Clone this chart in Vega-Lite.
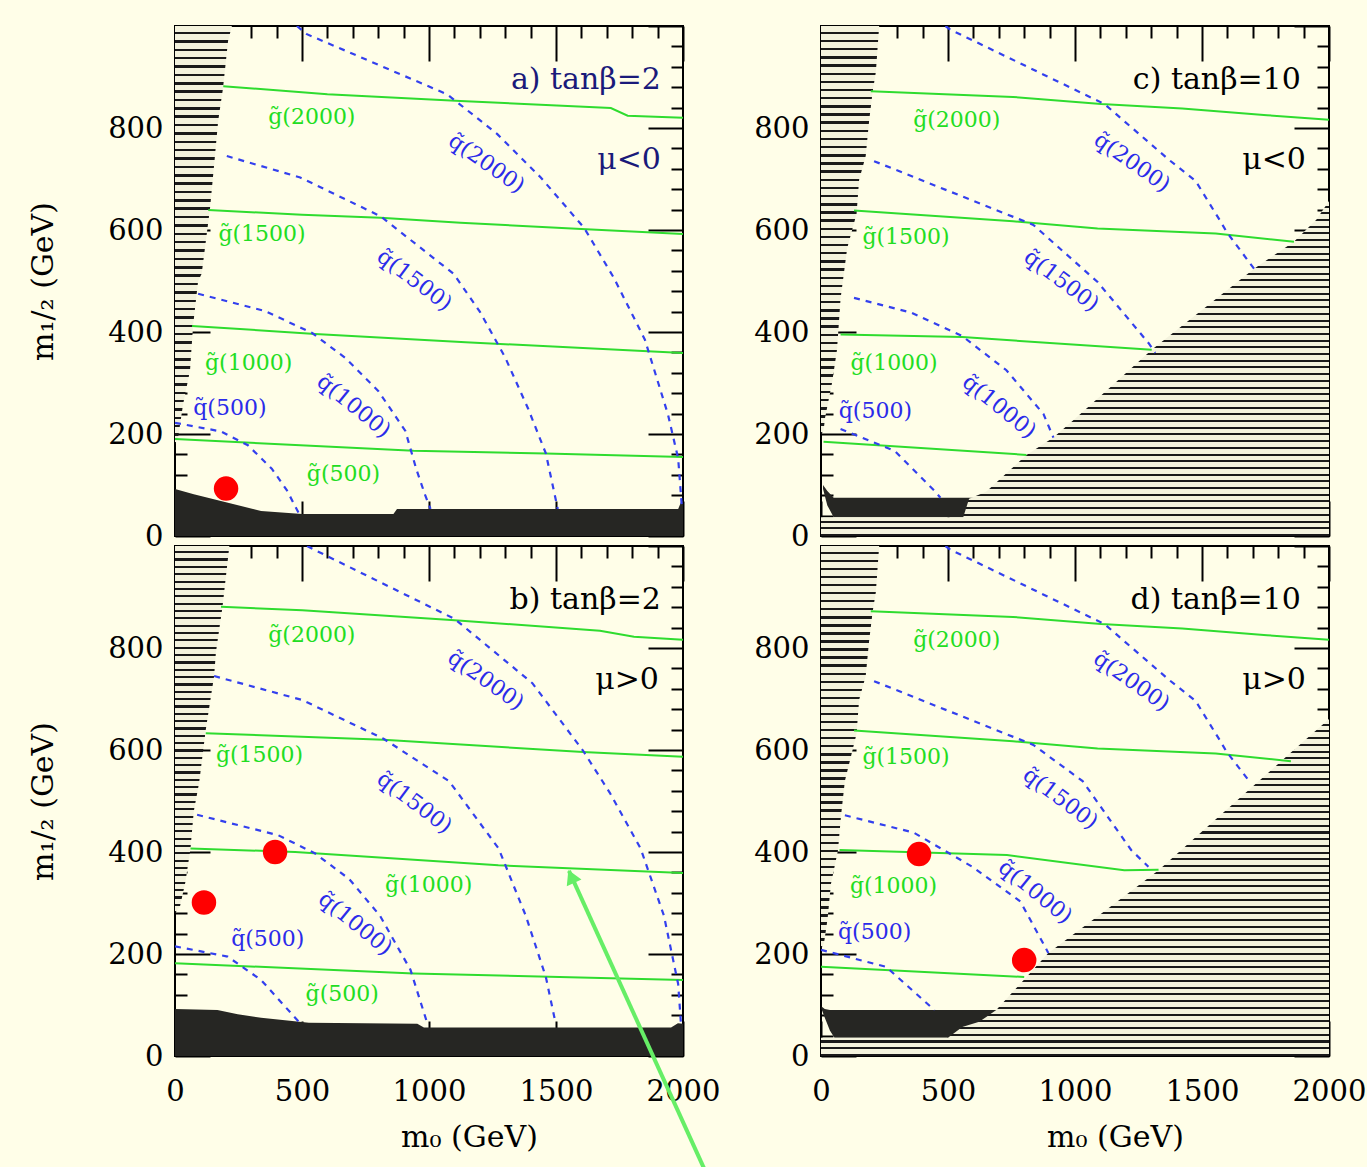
{
  "$schema": "https://vega.github.io/schema/vega-lite/v6.json",
  "background": "#fffee8",
  "padding": {"left": 27, "top": 11, "right": 0, "bottom": 0},
  "bounds": "flush",
  "columns": 2,
  "spacing": {"row": 10, "column": 138},
  "datasets": {
    "lines": [
      {"p":"a","c":"g2000","k":"g","x":190,"y":882},{"p":"a","c":"g2000","k":"g","x":600,"y":866},{"p":"a","c":"g2000","k":"g","x":1124,"y":853},{"p":"a","c":"g2000","k":"g","x":1716,"y":839},{"p":"a","c":"g2000","k":"g","x":1782,"y":824},{"p":"a","c":"g2000","k":"g","x":2000,"y":820},
      {"p":"a","c":"g1500","k":"g","x":131,"y":639},{"p":"a","c":"g1500","k":"g","x":500,"y":630},{"p":"a","c":"g1500","k":"g","x":809,"y":624},{"p":"a","c":"g1500","k":"g","x":1124,"y":614},{"p":"a","c":"g1500","k":"g","x":1600,"y":602},{"p":"a","c":"g1500","k":"g","x":2000,"y":592},
      {"p":"a","c":"g1000","k":"g","x":67,"y":412},{"p":"a","c":"g1000","k":"g","x":552,"y":396},{"p":"a","c":"g1000","k":"g","x":1144,"y":380},{"p":"a","c":"g1000","k":"g","x":2000,"y":359},
      {"p":"a","c":"g500","k":"g","x":0,"y":190},{"p":"a","c":"g500","k":"g","x":939,"y":167},{"p":"a","c":"g500","k":"g","x":1460,"y":162},{"p":"a","c":"g500","k":"g","x":2000,"y":155},
      {"p":"a","c":"q500","k":"q","x":0,"y":222},{"p":"a","c":"q500","k":"q","x":181,"y":205},{"p":"a","c":"q500","k":"q","x":287,"y":178},{"p":"a","c":"q500","k":"q","x":381,"y":132},{"p":"a","c":"q500","k":"q","x":440,"y":90},{"p":"a","c":"q500","k":"q","x":487,"y":45},
      {"p":"a","c":"q1000","k":"q","x":91,"y":475},{"p":"a","c":"q1000","k":"q","x":355,"y":441},{"p":"a","c":"q1000","k":"q","x":540,"y":398},{"p":"a","c":"q1000","k":"q","x":671,"y":349},{"p":"a","c":"q1000","k":"q","x":801,"y":284},{"p":"a","c":"q1000","k":"q","x":907,"y":206},{"p":"a","c":"q1000","k":"q","x":950,"y":131},{"p":"a","c":"q1000","k":"q","x":985,"y":80},{"p":"a","c":"q1000","k":"q","x":1006,"y":53},
      {"p":"a","c":"q1500","k":"q","x":204,"y":745},{"p":"a","c":"q1500","k":"q","x":493,"y":703},{"p":"a","c":"q1500","k":"q","x":809,"y":627},{"p":"a","c":"q1500","k":"q","x":1097,"y":514},{"p":"a","c":"q1500","k":"q","x":1200,"y":440},{"p":"a","c":"q1500","k":"q","x":1300,"y":350},{"p":"a","c":"q1500","k":"q","x":1390,"y":250},{"p":"a","c":"q1500","k":"q","x":1460,"y":162},{"p":"a","c":"q1500","k":"q","x":1507,"y":53},
      {"p":"a","c":"q2000","k":"q","x":480,"y":1000},{"p":"a","c":"q2000","k":"q","x":519,"y":984},{"p":"a","c":"q2000","k":"q","x":1072,"y":866},{"p":"a","c":"q2000","k":"q","x":1269,"y":788},{"p":"a","c":"q2000","k":"q","x":1440,"y":703},{"p":"a","c":"q2000","k":"q","x":1611,"y":604},{"p":"a","c":"q2000","k":"q","x":1728,"y":506},{"p":"a","c":"q2000","k":"q","x":1850,"y":385},{"p":"a","c":"q2000","k":"q","x":1941,"y":238},{"p":"a","c":"q2000","k":"q","x":1981,"y":152},{"p":"a","c":"q2000","k":"q","x":1995,"y":60},

      {"p":"b","c":"g2000","k":"g","x":181,"y":881},{"p":"b","c":"g2000","k":"g","x":501,"y":874},{"p":"b","c":"g2000","k":"g","x":1087,"y":855},{"p":"b","c":"g2000","k":"g","x":1673,"y":834},{"p":"b","c":"g2000","k":"g","x":1807,"y":822},{"p":"b","c":"g2000","k":"g","x":2000,"y":816},
      {"p":"b","c":"g1500","k":"g","x":121,"y":633},{"p":"b","c":"g1500","k":"g","x":821,"y":620},{"p":"b","c":"g1500","k":"g","x":1606,"y":596},{"p":"b","c":"g1500","k":"g","x":2000,"y":587},
      {"p":"b","c":"g1000","k":"g","x":61,"y":407},{"p":"b","c":"g1000","k":"g","x":473,"y":400},{"p":"b","c":"g1000","k":"g","x":1273,"y":374},{"p":"b","c":"g1000","k":"g","x":2000,"y":359},
      {"p":"b","c":"g500","k":"g","x":0,"y":182},{"p":"b","c":"g500","k":"g","x":939,"y":162},{"p":"b","c":"g500","k":"g","x":2000,"y":149},
      {"p":"b","c":"q500","k":"q","x":0,"y":215},{"p":"b","c":"q500","k":"q","x":207,"y":195},{"p":"b","c":"q500","k":"q","x":339,"y":149},{"p":"b","c":"q500","k":"q","x":473,"y":75},{"p":"b","c":"q500","k":"q","x":490,"y":66},
      {"p":"b","c":"q1000","k":"q","x":87,"y":473},{"p":"b","c":"q1000","k":"q","x":406,"y":433},{"p":"b","c":"q1000","k":"q","x":552,"y":397},{"p":"b","c":"q1000","k":"q","x":686,"y":347},{"p":"b","c":"q1000","k":"q","x":807,"y":275},{"p":"b","c":"q1000","k":"q","x":927,"y":169},{"p":"b","c":"q1000","k":"q","x":994,"y":63},
      {"p":"b","c":"q1500","k":"q","x":154,"y":745},{"p":"b","c":"q1500","k":"q","x":501,"y":698},{"p":"b","c":"q1500","k":"q","x":821,"y":622},{"p":"b","c":"q1500","k":"q","x":1079,"y":539},{"p":"b","c":"q1500","k":"q","x":1274,"y":407},{"p":"b","c":"q1500","k":"q","x":1381,"y":275},{"p":"b","c":"q1500","k":"q","x":1460,"y":155},{"p":"b","c":"q1500","k":"q","x":1499,"y":63},
      {"p":"b","c":"q2000","k":"q","x":520,"y":1000},{"p":"b","c":"q2000","k":"q","x":547,"y":993},{"p":"b","c":"q2000","k":"q","x":1101,"y":857},{"p":"b","c":"q2000","k":"q","x":1407,"y":731},{"p":"b","c":"q2000","k":"q","x":1606,"y":599},{"p":"b","c":"q2000","k":"q","x":1712,"y":516},{"p":"b","c":"q2000","k":"q","x":1833,"y":407},{"p":"b","c":"q2000","k":"q","x":1925,"y":275},{"p":"b","c":"q2000","k":"q","x":1981,"y":141},{"p":"b","c":"q2000","k":"q","x":1992,"y":63},

      {"p":"c","c":"g2000","k":"g","x":196,"y":872},{"p":"c","c":"g2000","k":"g","x":756,"y":861},{"p":"c","c":"g2000","k":"g","x":1103,"y":847},{"p":"c","c":"g2000","k":"g","x":1422,"y":838},{"p":"c","c":"g2000","k":"g","x":1756,"y":825},{"p":"c","c":"g2000","k":"g","x":2000,"y":816},
      {"p":"c","c":"g1500","k":"g","x":130,"y":638},{"p":"c","c":"g1500","k":"g","x":756,"y":617},{"p":"c","c":"g1500","k":"g","x":1089,"y":603},{"p":"c","c":"g1500","k":"g","x":1554,"y":593},{"p":"c","c":"g1500","k":"g","x":1862,"y":577},
      {"p":"c","c":"g1000","k":"g","x":77,"y":395},{"p":"c","c":"g1000","k":"g","x":556,"y":390},{"p":"c","c":"g1000","k":"g","x":1302,"y":365},
      {"p":"c","c":"g500","k":"g","x":10,"y":185},{"p":"c","c":"g500","k":"g","x":809,"y":159},
      {"p":"c","c":"q500","k":"q","x":77,"y":210},{"p":"c","c":"q500","k":"q","x":290,"y":167},{"p":"c","c":"q500","k":"q","x":450,"y":87},{"p":"c","c":"q500","k":"q","x":470,"y":75},
      {"p":"c","c":"q1000","k":"q","x":130,"y":467},{"p":"c","c":"q1000","k":"q","x":355,"y":438},{"p":"c","c":"q1000","k":"q","x":556,"y":392},{"p":"c","c":"q1000","k":"q","x":730,"y":325},{"p":"c","c":"q1000","k":"q","x":876,"y":239},{"p":"c","c":"q1000","k":"q","x":915,"y":193},
      {"p":"c","c":"q1500","k":"q","x":209,"y":735},{"p":"c","c":"q1500","k":"q","x":836,"y":610},{"p":"c","c":"q1500","k":"q","x":1089,"y":498},{"p":"c","c":"q1500","k":"q","x":1290,"y":378},{"p":"c","c":"q1500","k":"q","x":1316,"y":359},
      {"p":"c","c":"q2000","k":"q","x":490,"y":1000},{"p":"c","c":"q2000","k":"q","x":509,"y":993},{"p":"c","c":"q2000","k":"q","x":1116,"y":847},{"p":"c","c":"q2000","k":"q","x":1369,"y":738},{"p":"c","c":"q2000","k":"q","x":1475,"y":696},{"p":"c","c":"q2000","k":"q","x":1569,"y":620},{"p":"c","c":"q2000","k":"q","x":1596,"y":597},{"p":"c","c":"q2000","k":"q","x":1705,"y":524},

      {"p":"d","c":"g2000","k":"g","x":196,"y":872},{"p":"d","c":"g2000","k":"g","x":756,"y":861},{"p":"d","c":"g2000","k":"g","x":1103,"y":847},{"p":"d","c":"g2000","k":"g","x":1422,"y":838},{"p":"d","c":"g2000","k":"g","x":1756,"y":825},{"p":"d","c":"g2000","k":"g","x":2000,"y":816},
      {"p":"d","c":"g1500","k":"g","x":130,"y":638},{"p":"d","c":"g1500","k":"g","x":756,"y":617},{"p":"d","c":"g1500","k":"g","x":1089,"y":603},{"p":"d","c":"g1500","k":"g","x":1554,"y":593},{"p":"d","c":"g1500","k":"g","x":1850,"y":578},
      {"p":"d","c":"g1000","k":"g","x":73,"y":404},{"p":"d","c":"g1000","k":"g","x":732,"y":394},{"p":"d","c":"g1000","k":"g","x":1194,"y":364},{"p":"d","c":"g1000","k":"g","x":1329,"y":365},
      {"p":"d","c":"g500","k":"g","x":0,"y":175},{"p":"d","c":"g500","k":"g","x":800,"y":155},
      {"p":"d","c":"q500","k":"q","x":0,"y":208},{"p":"d","c":"q500","k":"q","x":256,"y":175},{"p":"d","c":"q500","k":"q","x":447,"y":90},
      {"p":"d","c":"q1000","k":"q","x":94,"y":472},{"p":"d","c":"q1000","k":"q","x":365,"y":438},{"p":"d","c":"q1000","k":"q","x":596,"y":371},{"p":"d","c":"q1000","k":"q","x":785,"y":303},{"p":"d","c":"q1000","k":"q","x":895,"y":202},
      {"p":"d","c":"q1500","k":"q","x":209,"y":735},{"p":"d","c":"q1500","k":"q","x":836,"y":610},{"p":"d","c":"q1500","k":"q","x":1030,"y":539},{"p":"d","c":"q1500","k":"q","x":1221,"y":404},{"p":"d","c":"q1500","k":"q","x":1289,"y":371},
      {"p":"d","c":"q2000","k":"q","x":490,"y":1000},{"p":"d","c":"q2000","k":"q","x":509,"y":993},{"p":"d","c":"q2000","k":"q","x":1116,"y":847},{"p":"d","c":"q2000","k":"q","x":1369,"y":738},{"p":"d","c":"q2000","k":"q","x":1475,"y":696},{"p":"d","c":"q2000","k":"q","x":1569,"y":620},{"p":"d","c":"q2000","k":"q","x":1596,"y":597},{"p":"d","c":"q2000","k":"q","x":1692,"y":535}
    ],
    "fills": [
      {"p":"a","r":"hatch","x":0,"y":92,"y2":0},{"p":"a","r":"hatch","x":74,"y":82,"y2":0},{"p":"a","r":"hatch","x":260,"y":59,"y2":0},{"p":"a","r":"hatch","x":339,"y":49,"y2":0},{"p":"a","r":"hatch","x":501,"y":43,"y2":0},{"p":"a","r":"hatch","x":860,"y":43,"y2":0},{"p":"a","r":"hatch","x":874,"y":53,"y2":0},{"p":"a","r":"hatch","x":1981,"y":53,"y2":0},{"p":"a","r":"hatch","x":1992,"y":66,"y2":0},{"p":"a","r":"hatch","x":2000,"y":70,"y2":0},
      {"p":"b","r":"hatch","x":0,"y":92,"y2":0},{"p":"b","r":"hatch","x":167,"y":90,"y2":0},{"p":"b","r":"hatch","x":247,"y":82,"y2":0},{"p":"b","r":"hatch","x":339,"y":75,"y2":0},{"p":"b","r":"hatch","x":527,"y":65,"y2":0},{"p":"b","r":"hatch","x":954,"y":63,"y2":0},{"p":"b","r":"hatch","x":980,"y":56,"y2":0},{"p":"b","r":"hatch","x":1953,"y":56,"y2":0},{"p":"b","r":"hatch","x":1980,"y":64,"y2":0},{"p":"b","r":"hatch","x":2000,"y":63,"y2":0},
      {"p":"c","r":"hatch","x":8,"y":100,"y2":92},{"p":"c","r":"hatch","x":25,"y":88,"y2":60},{"p":"c","r":"hatch","x":50,"y":75,"y2":37},{"p":"c","r":"hatch","x":700,"y":75,"y2":37},
      {"p":"c","r":"brick","x":0,"y":37,"y2":0},{"p":"c","r":"brick","x":560,"y":37,"y2":0},{"p":"c","r":"brick","x":583,"y":73,"y2":0},{"p":"c","r":"brick","x":650,"y":87,"y2":0},{"p":"c","r":"brick","x":809,"y":159,"y2":0},{"p":"c","r":"brick","x":915,"y":193,"y2":0},{"p":"c","r":"brick","x":1000,"y":230,"y2":0},{"p":"c","r":"brick","x":1151,"y":297,"y2":0},{"p":"c","r":"brick","x":1302,"y":365,"y2":0},{"p":"c","r":"brick","x":1500,"y":443,"y2":0},{"p":"c","r":"brick","x":1705,"y":524,"y2":0},{"p":"c","r":"brick","x":1862,"y":577,"y2":0},{"p":"c","r":"brick","x":1950,"y":620,"y2":0},{"p":"c","r":"brick","x":2000,"y":657,"y2":0},
      {"p":"d","r":"hatch","x":2,"y":97,"y2":92},{"p":"d","r":"hatch","x":15,"y":92,"y2":75},{"p":"d","r":"hatch","x":35,"y":90,"y2":50},{"p":"d","r":"hatch","x":53,"y":90,"y2":36},{"p":"d","r":"hatch","x":720,"y":90,"y2":36},
      {"p":"d","r":"brick","x":0,"y":36,"y2":0},{"p":"d","r":"brick","x":500,"y":36,"y2":0},{"p":"d","r":"brick","x":556,"y":57,"y2":0},{"p":"d","r":"brick","x":623,"y":67,"y2":0},{"p":"d","r":"brick","x":690,"y":90,"y2":0},{"p":"d","r":"brick","x":895,"y":202,"y2":0},{"p":"d","r":"brick","x":1100,"y":278,"y2":0},{"p":"d","r":"brick","x":1329,"y":364,"y2":0},{"p":"d","r":"brick","x":1500,"y":440,"y2":0},{"p":"d","r":"brick","x":1724,"y":539,"y2":0},{"p":"d","r":"brick","x":1850,"y":595,"y2":0},{"p":"d","r":"brick","x":2000,"y":661,"y2":0}
    ],
    "strips": [
      {"p":"a","y":1000,"x":224},{"p":"a","y":971,"x":209},{"p":"a","y":878,"x":189},{"p":"a","y":814,"x":170},{"p":"a","y":749,"x":158},{"p":"a","y":643,"x":138},{"p":"a","y":514,"x":105},{"p":"a","y":500,"x":91},{"p":"a","y":412,"x":71},{"p":"a","y":324,"x":59},{"p":"a","y":259,"x":32},{"p":"a","y":192,"x":12},{"p":"a","y":180,"x":0},
      {"p":"b","y":1000,"x":214},{"p":"b","y":881,"x":187},{"p":"b","y":791,"x":161},{"p":"b","y":745,"x":154},{"p":"b","y":639,"x":121},{"p":"b","y":536,"x":95},{"p":"b","y":480,"x":74},{"p":"b","y":407,"x":61},{"p":"b","y":341,"x":41},{"p":"b","y":294,"x":20},{"p":"b","y":280,"x":0},
      {"p":"c","y":1000,"x":229},{"p":"c","y":910,"x":216},{"p":"c","y":870,"x":203},{"p":"c","y":812,"x":189},{"p":"c","y":745,"x":176},{"p":"c","y":698,"x":150},{"p":"c","y":632,"x":140},{"p":"c","y":564,"x":103},{"p":"c","y":465,"x":77},{"p":"c","y":365,"x":63},{"p":"c","y":299,"x":43},{"p":"c","y":232,"x":16},{"p":"c","y":206,"x":10},{"p":"c","y":200,"x":0},
      {"p":"d","y":1000,"x":229},{"p":"d","y":910,"x":216},{"p":"d","y":870,"x":203},{"p":"d","y":812,"x":189},{"p":"d","y":745,"x":176},{"p":"d","y":698,"x":150},{"p":"d","y":632,"x":140},{"p":"d","y":539,"x":94},{"p":"d","y":472,"x":79},{"p":"d","y":404,"x":67},{"p":"d","y":337,"x":39},{"p":"d","y":269,"x":26},{"p":"d","y":222,"x":12},{"p":"d","y":210,"x":0}
    ],
    "dots": [
      {"p":"a","x":201,"y":93},
      {"p":"b","x":394,"y":400},{"p":"b","x":114,"y":301},
      {"p":"d","x":386,"y":396},{"p":"d","x":800,"y":188}
    ],
    "labels": [
      {"p":"a","k":"g","t":"g\u0303(2000)","x":367,"y":808},{"p":"a","k":"g","t":"g\u0303(1500)","x":171,"y":578},{"p":"a","k":"g","t":"g\u0303(1000)","x":118,"y":325},{"p":"a","k":"g","t":"g\u0303(500)","x":519,"y":108},{"p":"a","k":"q","t":"q\u0303(500)","x":72,"y":237},
      {"p":"b","k":"g","t":"g\u0303(2000)","x":367,"y":811},{"p":"b","k":"g","t":"g\u0303(1500)","x":161,"y":576},{"p":"b","k":"g","t":"g\u0303(1000)","x":827,"y":321},{"p":"b","k":"g","t":"g\u0303(500)","x":514,"y":108},{"p":"b","k":"q","t":"q\u0303(500)","x":221,"y":215},
      {"p":"c","k":"g","t":"g\u0303(2000)","x":363,"y":801},{"p":"c","k":"g","t":"g\u0303(1500)","x":163,"y":573},{"p":"c","k":"g","t":"g\u0303(1000)","x":116,"y":325},{"p":"c","k":"q","t":"q\u0303(500)","x":70,"y":232},
      {"p":"d","k":"g","t":"g\u0303(2000)","x":363,"y":801},{"p":"d","k":"g","t":"g\u0303(1500)","x":163,"y":573},{"p":"d","k":"g","t":"g\u0303(1000)","x":114,"y":320},{"p":"d","k":"q","t":"q\u0303(500)","x":67,"y":229}
    ],
    "rot": [
      {"p":"a","c":"q2000","t":"q\u0303(2000)","x":1227,"y":731},{"p":"a","c":"q1500","t":"q\u0303(1500)","x":943,"y":502},{"p":"a","c":"q1000","t":"q\u0303(1000)","x":704,"y":255},
      {"p":"b","c":"q2000","t":"q\u0303(2000)","x":1224,"y":737},{"p":"b","c":"q1500","t":"q\u0303(1500)","x":943,"y":497},{"p":"b","c":"q1000","t":"q\u0303(1000)","x":710,"y":260},
      {"p":"c","c":"q2000","t":"q\u0303(2000)","x":1225,"y":733},{"p":"c","c":"q1500","t":"q\u0303(1500)","x":947,"y":501},{"p":"c","c":"q1000","t":"q\u0303(1000)","x":702,"y":254},
      {"p":"d","c":"q2000","t":"q\u0303(2000)","x":1223,"y":735},{"p":"d","c":"q1500","t":"q\u0303(1500)","x":943,"y":505},{"p":"d","c":"q1000","t":"q\u0303(1000)","x":844,"y":322}
    ],
    "titles": [
      {"p":"a","t":"a) tanβ=2","x":1913,"y":876},{"p":"a","t":"μ<0","x":1913,"y":720},
      {"p":"b","t":"b) tanβ=2","x":1913,"y":876},{"p":"b","t":"μ>0","x":1905,"y":720},
      {"p":"c","t":"c) tanβ=10","x":1889,"y":876},{"p":"c","t":"μ<0","x":1909,"y":720},
      {"p":"d","t":"d) tanβ=10","x":1889,"y":876},{"p":"d","t":"μ>0","x":1909,"y":720}
    ],
    "arrow": [
      {"x":1551,"y":363},{"x":2119,"y":-260}
    ],
    "arrowhead": [
      {"x":1560,"y":352}
    ]
  },
  "concat": [
    {
      "width": 508, "height": 510,
      "encoding": {
        "x": {"field":"x","type":"quantitative","scale":{"domain":[0,2000],"nice":false,"zero":false},"axis":null},
        "y": {"field":"y","type":"quantitative","scale":{"domain":[0,1000],"nice":false,"zero":false},"axis":null}
      },
      "layer": [
        {"data":{"name":"fills"},"transform":[{"filter":"datum.p === 'a' && datum.r === 'hatch'"}],
         "mark":{"type":"area","color":"#262623","clip":true},
         "encoding":{
           "x":{"field":"x","type":"quantitative","scale":{"domain":[0,2000],"nice":false,"zero":false},
                "axis":{"orient":"bottom","values":[0,100,200,300,400,500,600,700,800,900,1000,1100,1200,1300,1400,1500,1600,1700,1800,1900,2000],"labels":false,"title":null,
                        "tickSize":{"condition":{"test":"datum.value % 500 === 0","value":-35},"value":-12}}},
           "y":{"field":"y","type":"quantitative","scale":{"domain":[0,1000],"nice":false,"zero":false},
                "axis":{"orient":"left","values":[0,40,80,120,160,200,240,280,320,360,400,440,480,520,560,600,640,680,720,760,800,840,880,920,960,1000],"format":"d",
                        "labelExpr":"datum.value % 200 === 0 && datum.value < 1000 ? datum.label : ''",
                        "tickSize":{"condition":{"test":"datum.value % 200 === 0","value":-35},"value":-12},
                        "labelPadding":47,"title":"m₁/₂ (GeV)","titleX":-123,"titleY":255,"titleAngle":-90,"titleBaseline":"alphabetic","titleAlign":"center"}},
           "y2":{"field":"y2"}}},
        {"data":{"name":"strips"},"transform":[{"filter":"datum.p === 'a'"}],
         "mark":{"type":"area","orient":"horizontal","clip":true},
         "encoding":{
           "x":{"field":"x","type":"quantitative","scale":{"domain":[0,2000],"nice":false,"zero":false},
                "axis":{"orient":"top","values":[0,100,200,300,400,500,600,700,800,900,1000,1100,1200,1300,1400,1500,1600,1700,1800,1900,2000],"labels":false,"title":null,
                        "tickSize":{"condition":{"test":"datum.value % 500 === 0","value":-35},"value":-12}}},
           "y":{"field":"y","type":"quantitative","scale":{"domain":[0,1000],"nice":false,"zero":false},
                "axis":{"orient":"right","values":[0,40,80,120,160,200,240,280,320,360,400,440,480,520,560,600,640,680,720,760,800,840,880,920,960,1000],"labels":false,"title":null,
                        "tickSize":{"condition":{"test":"datum.value % 200 === 0","value":-35},"value":-12}}},
           "x2":{"datum":0}}},
        {"data":{"name":"lines"},"transform":[{"filter":"datum.p === 'a' && datum.k === 'g'"}],
         "mark":{"type":"line","color":"#2fdc2f","strokeWidth":2,"clip":true},
         "encoding":{"detail":{"field":"c"}}},
        {"data":{"name":"lines"},"transform":[{"filter":"datum.p === 'a' && datum.k === 'q'"}],
         "mark":{"type":"line","color":"#3340ee","strokeWidth":2.2,"strokeDash":[6,6],"clip":true},
         "encoding":{"detail":{"field":"c"}}},
        {"data":{"name":"dots"},"transform":[{"filter":"datum.p === 'a'"}],
         "mark":{"type":"point","shape":"circle","filled":true,"color":"#ff0000","opacity":1,"size":600}},
        {"data":{"name":"labels"},"transform":[{"filter":"datum.p === 'a'"}],
         "mark":{"type":"text","align":"left","baseline":"alphabetic","font":"DejaVu Serif","fontSize":22},
         "encoding":{"text":{"field":"t"},"color":{"field":"k","type":"nominal","scale":{"domain":["g","q"],"range":["#22dd22","#2b2bea"]},"legend":null}}},
        {"data":{"name":"rot"},"transform":[{"filter":"datum.p === 'a'"}],
         "mark":{"type":"text","align":"center","baseline":"middle","font":"DejaVu Serif","fontSize":22,"color":"#2b2bea"},
         "encoding":{"text":{"field":"t"},"angle":{"field":"c","type":"nominal","scale":{"domain":["q2000","q1500","q1000"],"range":[35,39,42]},"legend":null}}},
        {"data":{"name":"titles"},"transform":[{"filter":"datum.p === 'a'"}],
         "mark":{"type":"text","align":"right","baseline":"alphabetic","font":"DejaVu Serif","fontSize":30,"color":"#1a1a7a"},
         "encoding":{"text":{"field":"t"}}}
      ],
      "resolve": {"axis": {"x":"independent","y":"independent"}}
    },
    {
      "width": 508, "height": 510,
      "encoding": {
        "x": {"field":"x","type":"quantitative","scale":{"domain":[0,2000],"nice":false,"zero":false},"axis":null},
        "y": {"field":"y","type":"quantitative","scale":{"domain":[0,1000],"nice":false,"zero":false},"axis":null}
      },
      "layer": [
        {"data":{"name":"fills"},"transform":[{"filter":"datum.p === 'c' && datum.r === 'hatch'"}],
         "mark":{"type":"area","color":"#262623","clip":true},
         "encoding":{
           "x":{"field":"x","type":"quantitative","scale":{"domain":[0,2000],"nice":false,"zero":false},
                "axis":{"orient":"bottom","values":[0,100,200,300,400,500,600,700,800,900,1000,1100,1200,1300,1400,1500,1600,1700,1800,1900,2000],"labels":false,"title":null,
                        "tickSize":{"condition":{"test":"datum.value % 500 === 0","value":-35},"value":-12}}},
           "y":{"field":"y","type":"quantitative","scale":{"domain":[0,1000],"nice":false,"zero":false},
                "axis":{"orient":"left","values":[0,40,80,120,160,200,240,280,320,360,400,440,480,520,560,600,640,680,720,760,800,840,880,920,960,1000],"format":"d",
                        "labelExpr":"datum.value % 200 === 0 && datum.value < 1000 ? datum.label : ''",
                        "tickSize":{"condition":{"test":"datum.value % 200 === 0","value":-35},"value":-12},
                        "labelPadding":47,"title":null}},
           "y2":{"field":"y2"}}},
        {"data":{"name":"fills"},"transform":[{"filter":"datum.p === 'c' && datum.r === 'brick'"}],
         "mark":{"type":"area","clip":true},
         "encoding":{"y2":{"field":"y2"}}},
        {"data":{"name":"strips"},"transform":[{"filter":"datum.p === 'c'"}],
         "mark":{"type":"area","orient":"horizontal","clip":true},
         "encoding":{
           "x":{"field":"x","type":"quantitative","scale":{"domain":[0,2000],"nice":false,"zero":false},
                "axis":{"orient":"top","values":[0,100,200,300,400,500,600,700,800,900,1000,1100,1200,1300,1400,1500,1600,1700,1800,1900,2000],"labels":false,"title":null,
                        "tickSize":{"condition":{"test":"datum.value % 500 === 0","value":-35},"value":-12}}},
           "y":{"field":"y","type":"quantitative","scale":{"domain":[0,1000],"nice":false,"zero":false},
                "axis":{"orient":"right","values":[0,40,80,120,160,200,240,280,320,360,400,440,480,520,560,600,640,680,720,760,800,840,880,920,960,1000],"labels":false,"title":null,
                        "tickSize":{"condition":{"test":"datum.value % 200 === 0","value":-35},"value":-12}}},
           "x2":{"datum":0}}},
        {"data":{"name":"lines"},"transform":[{"filter":"datum.p === 'c' && datum.k === 'g'"}],
         "mark":{"type":"line","color":"#2fdc2f","strokeWidth":2,"clip":true},
         "encoding":{"detail":{"field":"c"}}},
        {"data":{"name":"lines"},"transform":[{"filter":"datum.p === 'c' && datum.k === 'q'"}],
         "mark":{"type":"line","color":"#3340ee","strokeWidth":2.2,"strokeDash":[6,6],"clip":true},
         "encoding":{"detail":{"field":"c"}}},
        {"data":{"name":"labels"},"transform":[{"filter":"datum.p === 'c'"}],
         "mark":{"type":"text","align":"left","baseline":"alphabetic","font":"DejaVu Serif","fontSize":22},
         "encoding":{"text":{"field":"t"},"color":{"field":"k","type":"nominal","scale":{"domain":["g","q"],"range":["#22dd22","#2b2bea"]},"legend":null}}},
        {"data":{"name":"rot"},"transform":[{"filter":"datum.p === 'c'"}],
         "mark":{"type":"text","align":"center","baseline":"middle","font":"DejaVu Serif","fontSize":22,"color":"#2b2bea"},
         "encoding":{"text":{"field":"t"},"angle":{"field":"c","type":"nominal","scale":{"domain":["q2000","q1500","q1000"],"range":[35,39,42]},"legend":null}}},
        {"data":{"name":"titles"},"transform":[{"filter":"datum.p === 'c'"}],
         "mark":{"type":"text","align":"right","baseline":"alphabetic","font":"DejaVu Serif","fontSize":30,"color":"#000000"},
         "encoding":{"text":{"field":"t"}}}
      ],
      "resolve": {"axis": {"x":"independent","y":"independent"}}
    },
    {
      "width": 508, "height": 510,
      "encoding": {
        "x": {"field":"x","type":"quantitative","scale":{"domain":[0,2000],"nice":false,"zero":false},"axis":null},
        "y": {"field":"y","type":"quantitative","scale":{"domain":[0,1000],"nice":false,"zero":false},"axis":null}
      },
      "layer": [
        {"data":{"name":"fills"},"transform":[{"filter":"datum.p === 'b' && datum.r === 'hatch'"}],
         "mark":{"type":"area","color":"#262623","clip":true},
         "encoding":{
           "x":{"field":"x","type":"quantitative","scale":{"domain":[0,2000],"nice":false,"zero":false},
                "axis":{"orient":"bottom","values":[0,100,200,300,400,500,600,700,800,900,1000,1100,1200,1300,1400,1500,1600,1700,1800,1900,2000],"format":"d",
                        "labelExpr":"datum.value % 500 === 0 ? datum.label : ''",
                        "tickSize":{"condition":{"test":"datum.value % 500 === 0","value":-35},"value":-12},
                        "labelPadding":56,"title":"m₀ (GeV)","titleX":294,"titleY":90,"titleBaseline":"alphabetic","titleAlign":"center"}},
           "y":{"field":"y","type":"quantitative","scale":{"domain":[0,1000],"nice":false,"zero":false},
                "axis":{"orient":"left","values":[0,40,80,120,160,200,240,280,320,360,400,440,480,520,560,600,640,680,720,760,800,840,880,920,960,1000],"format":"d",
                        "labelExpr":"datum.value % 200 === 0 && datum.value < 1000 ? datum.label : ''",
                        "tickSize":{"condition":{"test":"datum.value % 200 === 0","value":-35},"value":-12},
                        "labelPadding":47,"title":"m₁/₂ (GeV)","titleX":-123,"titleY":255,"titleAngle":-90,"titleBaseline":"alphabetic","titleAlign":"center"}},
           "y2":{"field":"y2"}}},
        {"data":{"name":"strips"},"transform":[{"filter":"datum.p === 'b'"}],
         "mark":{"type":"area","orient":"horizontal","clip":true},
         "encoding":{
           "x":{"field":"x","type":"quantitative","scale":{"domain":[0,2000],"nice":false,"zero":false},
                "axis":{"orient":"top","values":[0,100,200,300,400,500,600,700,800,900,1000,1100,1200,1300,1400,1500,1600,1700,1800,1900,2000],"labels":false,"title":null,
                        "tickSize":{"condition":{"test":"datum.value % 500 === 0","value":-35},"value":-12}}},
           "y":{"field":"y","type":"quantitative","scale":{"domain":[0,1000],"nice":false,"zero":false},
                "axis":{"orient":"right","values":[0,40,80,120,160,200,240,280,320,360,400,440,480,520,560,600,640,680,720,760,800,840,880,920,960,1000],"labels":false,"title":null,
                        "tickSize":{"condition":{"test":"datum.value % 200 === 0","value":-35},"value":-12}}},
           "x2":{"datum":0}}},
        {"data":{"name":"lines"},"transform":[{"filter":"datum.p === 'b' && datum.k === 'g'"}],
         "mark":{"type":"line","color":"#2fdc2f","strokeWidth":2,"clip":true},
         "encoding":{"detail":{"field":"c"}}},
        {"data":{"name":"lines"},"transform":[{"filter":"datum.p === 'b' && datum.k === 'q'"}],
         "mark":{"type":"line","color":"#3340ee","strokeWidth":2.2,"strokeDash":[6,6],"clip":true},
         "encoding":{"detail":{"field":"c"}}},
        {"data":{"name":"dots"},"transform":[{"filter":"datum.p === 'b'"}],
         "mark":{"type":"point","shape":"circle","filled":true,"color":"#ff0000","opacity":1,"size":600}},
        {"data":{"name":"labels"},"transform":[{"filter":"datum.p === 'b'"}],
         "mark":{"type":"text","align":"left","baseline":"alphabetic","font":"DejaVu Serif","fontSize":22},
         "encoding":{"text":{"field":"t"},"color":{"field":"k","type":"nominal","scale":{"domain":["g","q"],"range":["#22dd22","#2b2bea"]},"legend":null}}},
        {"data":{"name":"rot"},"transform":[{"filter":"datum.p === 'b'"}],
         "mark":{"type":"text","align":"center","baseline":"middle","font":"DejaVu Serif","fontSize":22,"color":"#2b2bea"},
         "encoding":{"text":{"field":"t"},"angle":{"field":"c","type":"nominal","scale":{"domain":["q2000","q1500","q1000"],"range":[35,39,42]},"legend":null}}},
        {"data":{"name":"titles"},"transform":[{"filter":"datum.p === 'b'"}],
         "mark":{"type":"text","align":"right","baseline":"alphabetic","font":"DejaVu Serif","fontSize":30,"color":"#000000"},
         "encoding":{"text":{"field":"t"}}},
        {"data":{"name":"arrow"},
         "mark":{"type":"line","color":"#66ee66","strokeWidth":4,"clip":false}},
        {"data":{"name":"arrowhead"},
         "mark":{"type":"point","shape":"triangle-up","filled":true,"color":"#66ee66","opacity":1,"size":260,"angle":335.6,"clip":false}}
      ],
      "resolve": {"axis": {"x":"independent","y":"independent"}}
    },
    {
      "width": 508, "height": 510,
      "encoding": {
        "x": {"field":"x","type":"quantitative","scale":{"domain":[0,2000],"nice":false,"zero":false},"axis":null},
        "y": {"field":"y","type":"quantitative","scale":{"domain":[0,1000],"nice":false,"zero":false},"axis":null}
      },
      "layer": [
        {"data":{"name":"fills"},"transform":[{"filter":"datum.p === 'd' && datum.r === 'hatch'"}],
         "mark":{"type":"area","color":"#262623","clip":true},
         "encoding":{
           "x":{"field":"x","type":"quantitative","scale":{"domain":[0,2000],"nice":false,"zero":false},
                "axis":{"orient":"bottom","values":[0,100,200,300,400,500,600,700,800,900,1000,1100,1200,1300,1400,1500,1600,1700,1800,1900,2000],"format":"d",
                        "labelExpr":"datum.value % 500 === 0 ? datum.label : ''",
                        "tickSize":{"condition":{"test":"datum.value % 500 === 0","value":-35},"value":-12},
                        "labelPadding":56,"title":"m₀ (GeV)","titleX":294,"titleY":90,"titleBaseline":"alphabetic","titleAlign":"center"}},
           "y":{"field":"y","type":"quantitative","scale":{"domain":[0,1000],"nice":false,"zero":false},
                "axis":{"orient":"left","values":[0,40,80,120,160,200,240,280,320,360,400,440,480,520,560,600,640,680,720,760,800,840,880,920,960,1000],"format":"d",
                        "labelExpr":"datum.value % 200 === 0 && datum.value < 1000 ? datum.label : ''",
                        "tickSize":{"condition":{"test":"datum.value % 200 === 0","value":-35},"value":-12},
                        "labelPadding":47,"title":null}},
           "y2":{"field":"y2"}}},
        {"data":{"name":"fills"},"transform":[{"filter":"datum.p === 'd' && datum.r === 'brick'"}],
         "mark":{"type":"area","clip":true},
         "encoding":{"y2":{"field":"y2"}}},
        {"data":{"name":"strips"},"transform":[{"filter":"datum.p === 'd'"}],
         "mark":{"type":"area","orient":"horizontal","clip":true},
         "encoding":{
           "x":{"field":"x","type":"quantitative","scale":{"domain":[0,2000],"nice":false,"zero":false},
                "axis":{"orient":"top","values":[0,100,200,300,400,500,600,700,800,900,1000,1100,1200,1300,1400,1500,1600,1700,1800,1900,2000],"labels":false,"title":null,
                        "tickSize":{"condition":{"test":"datum.value % 500 === 0","value":-35},"value":-12}}},
           "y":{"field":"y","type":"quantitative","scale":{"domain":[0,1000],"nice":false,"zero":false},
                "axis":{"orient":"right","values":[0,40,80,120,160,200,240,280,320,360,400,440,480,520,560,600,640,680,720,760,800,840,880,920,960,1000],"labels":false,"title":null,
                        "tickSize":{"condition":{"test":"datum.value % 200 === 0","value":-35},"value":-12}}},
           "x2":{"datum":0}}},
        {"data":{"name":"lines"},"transform":[{"filter":"datum.p === 'd' && datum.k === 'g'"}],
         "mark":{"type":"line","color":"#2fdc2f","strokeWidth":2,"clip":true},
         "encoding":{"detail":{"field":"c"}}},
        {"data":{"name":"lines"},"transform":[{"filter":"datum.p === 'd' && datum.k === 'q'"}],
         "mark":{"type":"line","color":"#3340ee","strokeWidth":2.2,"strokeDash":[6,6],"clip":true},
         "encoding":{"detail":{"field":"c"}}},
        {"data":{"name":"dots"},"transform":[{"filter":"datum.p === 'd'"}],
         "mark":{"type":"point","shape":"circle","filled":true,"color":"#ff0000","opacity":1,"size":600}},
        {"data":{"name":"labels"},"transform":[{"filter":"datum.p === 'd'"}],
         "mark":{"type":"text","align":"left","baseline":"alphabetic","font":"DejaVu Serif","fontSize":22},
         "encoding":{"text":{"field":"t"},"color":{"field":"k","type":"nominal","scale":{"domain":["g","q"],"range":["#22dd22","#2b2bea"]},"legend":null}}},
        {"data":{"name":"rot"},"transform":[{"filter":"datum.p === 'd'"}],
         "mark":{"type":"text","align":"center","baseline":"middle","font":"DejaVu Serif","fontSize":22,"color":"#2b2bea"},
         "encoding":{"text":{"field":"t"},"angle":{"field":"c","type":"nominal","scale":{"domain":["q2000","q1500","q1000"],"range":[35,39,42]},"legend":null}}},
        {"data":{"name":"titles"},"transform":[{"filter":"datum.p === 'd'"}],
         "mark":{"type":"text","align":"right","baseline":"alphabetic","font":"DejaVu Serif","fontSize":30,"color":"#000000"},
         "encoding":{"text":{"field":"t"}}}
      ],
      "resolve": {"axis": {"x":"independent","y":"independent"}}
    }
  ],
  "config": {
    "view": {"stroke": "#000000", "strokeWidth": 2},
    "axis": {
      "domain": false, "grid": false,
      "tickColor": "#000000", "tickWidth": 2,
      "labelFont": "DejaVu Serif", "labelFontSize": 29, "labelColor": "#000000",
      "labelFlush": false, "labelOverlap": false, "labelBound": false,
      "titleFont": "DejaVu Serif", "titleFontSize": 30, "titleFontWeight": "normal", "titleColor": "#000000"
    },
    "area": {
      "color": {
        "gradient": "linear", "x1": 0, "y1": 0, "x2": 0, "y2": 1,
        "stops": [
          {"offset":0,"color":"#f4f3dd"},{"offset":0.014,"color":"#f4f3dd"},{"offset":0.014,"color":"#1a1a1a"},{"offset":0.02,"color":"#1a1a1a"},
          {"offset":0.02,"color":"#f4f3dd"},{"offset":0.034,"color":"#f4f3dd"},{"offset":0.034,"color":"#1a1a1a"},{"offset":0.04,"color":"#1a1a1a"},
          {"offset":0.04,"color":"#f4f3dd"},{"offset":0.054,"color":"#f4f3dd"},{"offset":0.054,"color":"#1a1a1a"},{"offset":0.06,"color":"#1a1a1a"},
          {"offset":0.06,"color":"#f4f3dd"},{"offset":0.074,"color":"#f4f3dd"},{"offset":0.074,"color":"#1a1a1a"},{"offset":0.08,"color":"#1a1a1a"},
          {"offset":0.08,"color":"#f4f3dd"},{"offset":0.094,"color":"#f4f3dd"},{"offset":0.094,"color":"#1a1a1a"},{"offset":0.1,"color":"#1a1a1a"},
          {"offset":0.1,"color":"#f4f3dd"},{"offset":0.114,"color":"#f4f3dd"},{"offset":0.114,"color":"#1a1a1a"},{"offset":0.12,"color":"#1a1a1a"},
          {"offset":0.12,"color":"#f4f3dd"},{"offset":0.134,"color":"#f4f3dd"},{"offset":0.134,"color":"#1a1a1a"},{"offset":0.14,"color":"#1a1a1a"},
          {"offset":0.14,"color":"#f4f3dd"},{"offset":0.154,"color":"#f4f3dd"},{"offset":0.154,"color":"#1a1a1a"},{"offset":0.16,"color":"#1a1a1a"},
          {"offset":0.16,"color":"#f4f3dd"},{"offset":0.174,"color":"#f4f3dd"},{"offset":0.174,"color":"#1a1a1a"},{"offset":0.18,"color":"#1a1a1a"},
          {"offset":0.18,"color":"#f4f3dd"},{"offset":0.194,"color":"#f4f3dd"},{"offset":0.194,"color":"#1a1a1a"},{"offset":0.2,"color":"#1a1a1a"},
          {"offset":0.2,"color":"#f4f3dd"},{"offset":0.214,"color":"#f4f3dd"},{"offset":0.214,"color":"#1a1a1a"},{"offset":0.22,"color":"#1a1a1a"},
          {"offset":0.22,"color":"#f4f3dd"},{"offset":0.234,"color":"#f4f3dd"},{"offset":0.234,"color":"#1a1a1a"},{"offset":0.24,"color":"#1a1a1a"},
          {"offset":0.24,"color":"#f4f3dd"},{"offset":0.254,"color":"#f4f3dd"},{"offset":0.254,"color":"#1a1a1a"},{"offset":0.26,"color":"#1a1a1a"},
          {"offset":0.26,"color":"#f4f3dd"},{"offset":0.274,"color":"#f4f3dd"},{"offset":0.274,"color":"#1a1a1a"},{"offset":0.28,"color":"#1a1a1a"},
          {"offset":0.28,"color":"#f4f3dd"},{"offset":0.294,"color":"#f4f3dd"},{"offset":0.294,"color":"#1a1a1a"},{"offset":0.3,"color":"#1a1a1a"},
          {"offset":0.3,"color":"#f4f3dd"},{"offset":0.314,"color":"#f4f3dd"},{"offset":0.314,"color":"#1a1a1a"},{"offset":0.32,"color":"#1a1a1a"},
          {"offset":0.32,"color":"#f4f3dd"},{"offset":0.334,"color":"#f4f3dd"},{"offset":0.334,"color":"#1a1a1a"},{"offset":0.34,"color":"#1a1a1a"},
          {"offset":0.34,"color":"#f4f3dd"},{"offset":0.354,"color":"#f4f3dd"},{"offset":0.354,"color":"#1a1a1a"},{"offset":0.36,"color":"#1a1a1a"},
          {"offset":0.36,"color":"#f4f3dd"},{"offset":0.374,"color":"#f4f3dd"},{"offset":0.374,"color":"#1a1a1a"},{"offset":0.38,"color":"#1a1a1a"},
          {"offset":0.38,"color":"#f4f3dd"},{"offset":0.394,"color":"#f4f3dd"},{"offset":0.394,"color":"#1a1a1a"},{"offset":0.4,"color":"#1a1a1a"},
          {"offset":0.4,"color":"#f4f3dd"},{"offset":0.414,"color":"#f4f3dd"},{"offset":0.414,"color":"#1a1a1a"},{"offset":0.42,"color":"#1a1a1a"},
          {"offset":0.42,"color":"#f4f3dd"},{"offset":0.434,"color":"#f4f3dd"},{"offset":0.434,"color":"#1a1a1a"},{"offset":0.44,"color":"#1a1a1a"},
          {"offset":0.44,"color":"#f4f3dd"},{"offset":0.454,"color":"#f4f3dd"},{"offset":0.454,"color":"#1a1a1a"},{"offset":0.46,"color":"#1a1a1a"},
          {"offset":0.46,"color":"#f4f3dd"},{"offset":0.474,"color":"#f4f3dd"},{"offset":0.474,"color":"#1a1a1a"},{"offset":0.48,"color":"#1a1a1a"},
          {"offset":0.48,"color":"#f4f3dd"},{"offset":0.494,"color":"#f4f3dd"},{"offset":0.494,"color":"#1a1a1a"},{"offset":0.5,"color":"#1a1a1a"},
          {"offset":0.5,"color":"#f4f3dd"},{"offset":0.514,"color":"#f4f3dd"},{"offset":0.514,"color":"#1a1a1a"},{"offset":0.52,"color":"#1a1a1a"},
          {"offset":0.52,"color":"#f4f3dd"},{"offset":0.534,"color":"#f4f3dd"},{"offset":0.534,"color":"#1a1a1a"},{"offset":0.54,"color":"#1a1a1a"},
          {"offset":0.54,"color":"#f4f3dd"},{"offset":0.554,"color":"#f4f3dd"},{"offset":0.554,"color":"#1a1a1a"},{"offset":0.56,"color":"#1a1a1a"},
          {"offset":0.56,"color":"#f4f3dd"},{"offset":0.574,"color":"#f4f3dd"},{"offset":0.574,"color":"#1a1a1a"},{"offset":0.58,"color":"#1a1a1a"},
          {"offset":0.58,"color":"#f4f3dd"},{"offset":0.594,"color":"#f4f3dd"},{"offset":0.594,"color":"#1a1a1a"},{"offset":0.6,"color":"#1a1a1a"},
          {"offset":0.6,"color":"#f4f3dd"},{"offset":0.614,"color":"#f4f3dd"},{"offset":0.614,"color":"#1a1a1a"},{"offset":0.62,"color":"#1a1a1a"},
          {"offset":0.62,"color":"#f4f3dd"},{"offset":0.634,"color":"#f4f3dd"},{"offset":0.634,"color":"#1a1a1a"},{"offset":0.64,"color":"#1a1a1a"},
          {"offset":0.64,"color":"#f4f3dd"},{"offset":0.654,"color":"#f4f3dd"},{"offset":0.654,"color":"#1a1a1a"},{"offset":0.66,"color":"#1a1a1a"},
          {"offset":0.66,"color":"#f4f3dd"},{"offset":0.674,"color":"#f4f3dd"},{"offset":0.674,"color":"#1a1a1a"},{"offset":0.68,"color":"#1a1a1a"},
          {"offset":0.68,"color":"#f4f3dd"},{"offset":0.694,"color":"#f4f3dd"},{"offset":0.694,"color":"#1a1a1a"},{"offset":0.7,"color":"#1a1a1a"},
          {"offset":0.7,"color":"#f4f3dd"},{"offset":0.714,"color":"#f4f3dd"},{"offset":0.714,"color":"#1a1a1a"},{"offset":0.72,"color":"#1a1a1a"},
          {"offset":0.72,"color":"#f4f3dd"},{"offset":0.734,"color":"#f4f3dd"},{"offset":0.734,"color":"#1a1a1a"},{"offset":0.74,"color":"#1a1a1a"},
          {"offset":0.74,"color":"#f4f3dd"},{"offset":0.754,"color":"#f4f3dd"},{"offset":0.754,"color":"#1a1a1a"},{"offset":0.76,"color":"#1a1a1a"},
          {"offset":0.76,"color":"#f4f3dd"},{"offset":0.774,"color":"#f4f3dd"},{"offset":0.774,"color":"#1a1a1a"},{"offset":0.78,"color":"#1a1a1a"},
          {"offset":0.78,"color":"#f4f3dd"},{"offset":0.794,"color":"#f4f3dd"},{"offset":0.794,"color":"#1a1a1a"},{"offset":0.8,"color":"#1a1a1a"},
          {"offset":0.8,"color":"#f4f3dd"},{"offset":0.814,"color":"#f4f3dd"},{"offset":0.814,"color":"#1a1a1a"},{"offset":0.82,"color":"#1a1a1a"},
          {"offset":0.82,"color":"#f4f3dd"},{"offset":0.834,"color":"#f4f3dd"},{"offset":0.834,"color":"#1a1a1a"},{"offset":0.84,"color":"#1a1a1a"},
          {"offset":0.84,"color":"#f4f3dd"},{"offset":0.854,"color":"#f4f3dd"},{"offset":0.854,"color":"#1a1a1a"},{"offset":0.86,"color":"#1a1a1a"},
          {"offset":0.86,"color":"#f4f3dd"},{"offset":0.874,"color":"#f4f3dd"},{"offset":0.874,"color":"#1a1a1a"},{"offset":0.88,"color":"#1a1a1a"},
          {"offset":0.88,"color":"#f4f3dd"},{"offset":0.894,"color":"#f4f3dd"},{"offset":0.894,"color":"#1a1a1a"},{"offset":0.9,"color":"#1a1a1a"},
          {"offset":0.9,"color":"#f4f3dd"},{"offset":0.914,"color":"#f4f3dd"},{"offset":0.914,"color":"#1a1a1a"},{"offset":0.92,"color":"#1a1a1a"},
          {"offset":0.92,"color":"#f4f3dd"},{"offset":0.934,"color":"#f4f3dd"},{"offset":0.934,"color":"#1a1a1a"},{"offset":0.94,"color":"#1a1a1a"},
          {"offset":0.94,"color":"#f4f3dd"},{"offset":0.954,"color":"#f4f3dd"},{"offset":0.954,"color":"#1a1a1a"},{"offset":0.96,"color":"#1a1a1a"},
          {"offset":0.96,"color":"#f4f3dd"},{"offset":0.974,"color":"#f4f3dd"},{"offset":0.974,"color":"#1a1a1a"},{"offset":0.98,"color":"#1a1a1a"},
          {"offset":0.98,"color":"#f4f3dd"},{"offset":0.994,"color":"#f4f3dd"},{"offset":0.994,"color":"#1a1a1a"},{"offset":1,"color":"#1a1a1a"}
        ]
      }
    }
  }
}
